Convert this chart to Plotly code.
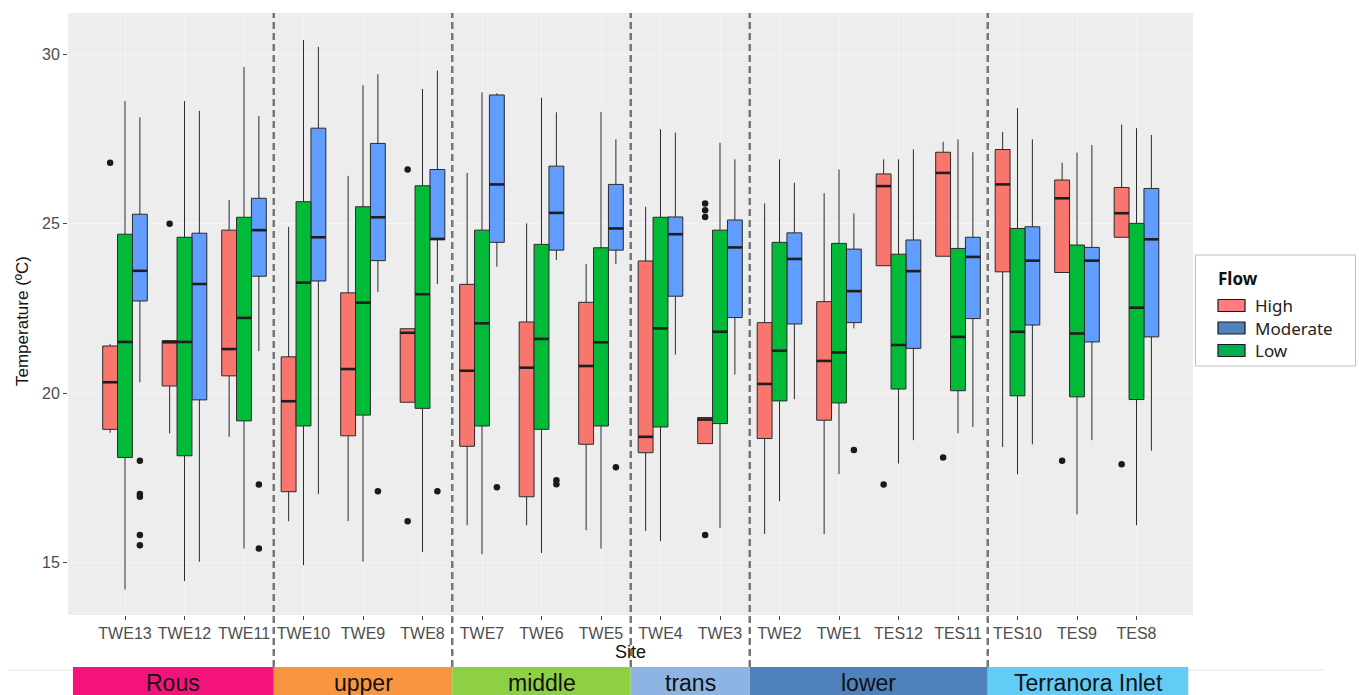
import plotly.graph_objects as go

sites = ["TWE13", "TWE12", "TWE11", "TWE10", "TWE9", "TWE8", "TWE7", "TWE6", "TWE5",
         "TWE4", "TWE3", "TWE2", "TWE1", "TES12", "TES11", "TES10", "TES9", "TES8"]

# High flow
high_low = [18.83, 18.81, 18.71, 16.22, 16.22, 19.73, 16.1, 16.1, 15.95, 15.93, 18.51, 15.84, 15.84, 23.76, 24.04, 18.41, 23.56, 24.6]
high_q1 = [18.93, 20.21, 20.51, 17.09, 18.74, 19.73, 18.43, 16.94, 18.49, 18.24, 18.51, 18.66, 19.2, 23.76, 24.04, 23.58, 23.56, 24.6]
high_med = [20.32, 21.5, 21.3, 19.76, 20.71, 21.78, 20.66, 20.75, 20.8, 18.71, 19.22, 20.27, 20.95, 26.11, 26.5, 26.16, 25.75, 25.31]
high_q3 = [21.39, 21.55, 24.81, 21.07, 22.96, 21.9, 23.21, 22.1, 22.68, 23.9, 19.28, 22.08, 22.7, 26.47, 27.11, 27.19, 26.29, 26.07]
high_up = [21.45, 21.55, 25.7, 24.91, 26.41, 21.9, 26.5, 25.01, 23.81, 25.5, 19.28, 25.6, 25.9, 26.9, 27.42, 27.71, 26.8, 27.93]

# Low flow
low_low = [14.2, 14.45, 15.41, 14.92, 15.02, 15.31, 15.24, 15.28, 15.41, 15.63, 16.02, 16.81, 17.61, 17.92, 18.81, 17.6, 16.42, 16.1]
low_q1 = [18.1, 18.15, 19.18, 19.03, 19.35, 19.55, 19.03, 18.93, 19.03, 19.0, 19.1, 19.77, 19.71, 20.12, 20.07, 19.92, 19.89, 19.81]
low_med = [21.51, 21.51, 22.22, 23.26, 22.67, 22.92, 22.06, 21.6, 21.5, 21.91, 21.81, 21.25, 21.2, 21.42, 21.66, 21.81, 21.76, 22.52]
low_q3 = [24.69, 24.6, 25.19, 25.65, 25.5, 26.12, 24.81, 24.39, 24.29, 25.19, 24.81, 24.45, 24.42, 24.1, 24.27, 24.86, 24.37, 25.01]
low_up = [28.62, 28.62, 29.63, 30.42, 29.09, 28.98, 28.88, 28.72, 28.3, 27.79, 27.39, 26.9, 26.6, 26.9, 27.49, 28.41, 27.1, 27.82]

# Moderate flow
mod_low = [20.32, 15.02, 21.24, 17.02, 22.99, 23.22, 23.73, 23.93, 23.81, 21.14, 20.55, 19.82, 21.91, 18.61, 19.0, 18.49, 18.61, 18.3]
mod_q1 = [22.72, 19.8, 23.45, 23.31, 23.91, 24.53, 24.45, 24.22, 24.22, 22.86, 22.23, 22.04, 22.08, 21.32, 22.2, 22.01, 21.51, 21.66]
mod_med = [23.61, 23.22, 24.81, 24.6, 25.19, 24.55, 26.16, 25.32, 24.86, 24.69, 24.3, 23.96, 23.01, 23.6, 24.02, 23.91, 23.91, 24.54]
mod_q3 = [25.28, 24.72, 25.75, 27.82, 27.37, 26.6, 28.8, 26.7, 26.16, 25.2, 25.11, 24.73, 24.25, 24.52, 24.6, 24.91, 24.3, 26.04]
mod_up = [28.14, 28.33, 28.18, 30.22, 29.41, 29.52, 28.85, 28.29, 27.49, 27.69, 26.9, 26.21, 25.3, 27.19, 27.11, 27.49, 27.32, 27.62]

# Outliers
out_high_site = ["TWE13", "TWE12", "TWE8", "TWE8", "TWE3", "TWE3", "TWE3", "TWE3", "TES12", "TES11", "TES9", "TES8"]
out_high_val = [26.8, 25.0, 26.6, 16.22, 25.6, 25.4, 25.2, 15.81, 17.3, 18.1, 18.0, 17.9]
out_mod_site = ["TWE13", "TWE13", "TWE13", "TWE13", "TWE13", "TWE11", "TWE11", "TWE9", "TWE8", "TWE7", "TWE6", "TWE6", "TWE5", "TWE1"]
out_mod_val = [18.0, 17.02, 16.94, 15.81, 15.51, 17.3, 15.41, 17.1, 17.1, 17.22, 17.43, 17.31, 17.81, 18.32]

# Regions
regions = ["Rous", "upper", "middle", "trans", "lower", "Terranora Inlet"]
region_first = ["TWE13", "TWE10", "TWE7", "TWE4", "TWE2", "TES10"]
region_last = ["TWE11", "TWE8", "TWE5", "TWE3", "TES11", "TES8"]
region_colors = ["#F5137B", "#F7963F", "#8ED043", "#8EB4E3", "#4F81BD", "#62CCF6"]

flows = ["High", "Moderate", "Low"]
flow_colors = {"High": "#F8766D", "Moderate": "#619CFF", "Low": "#00BA38"}
legend_colors = {"High": "#FF7C80", "Moderate": "#4F81BD", "Low": "#00B050"}
offsets = {"High": -0.25, "Low": 0.0, "Moderate": 0.25}
stats = {
    "High": (high_low, high_q1, high_med, high_q3, high_up),
    "Moderate": (mod_low, mod_q1, mod_med, mod_q3, mod_up),
    "Low": (low_low, low_q1, low_med, low_q3, low_up),
}
BW = 0.25

idx = {s: i for i, s in enumerate(sites)}
fig = go.Figure()

for f in flows:
    lo, q1, md, q3, up = stats[f]
    pos = [i + offsets[f] for i in range(len(sites))]
    fig.add_trace(go.Box(
        x=pos, q1=q1, median=md, q3=q3, lowerfence=lo, upperfence=up,
        width=BW, whiskerwidth=0, boxpoints=False,
        fillcolor=flow_colors[f], line=dict(color="#2b2b2b", width=1),
        name=f, showlegend=False, hoverinfo="skip"))
    mx, my = [], []
    for p, m in zip(pos, md):
        mx += [p - BW / 2, p + BW / 2, None]
        my += [m, m, None]
    fig.add_trace(go.Scatter(x=mx, y=my, mode="lines",
                             line=dict(color="#1f1f1f", width=2.6),
                             showlegend=False, hoverinfo="skip"))

for f, ss, vv in [("High", out_high_site, out_high_val), ("Moderate", out_mod_site, out_mod_val)]:
    fig.add_trace(go.Scatter(
        x=[idx[s] + offsets[f] for s in ss], y=vv, mode="markers",
        marker=dict(color="#1a1a1a", size=6.5), showlegend=False, hoverinfo="skip"))

# Layout geometry
L, R, T, B = 68, 1193, 13, 615
W, H = 1359, 695
ph = B - T
pw = R - L


def py(y):
    return (B - y) / ph


def px(x):
    return (x - L) / pw


shapes = []
annotations = []

# faint line under the region strip
shapes.append(dict(type="line", xref="paper", yref="paper", x0=px(8), x1=px(1323),
                   y0=py(670), y1=py(670), line=dict(color="#E3E3E3", width=1), layer="below"))

# region strip
for k, r in enumerate(regions):
    x0 = idx[region_first[k]] - 0.5
    x1 = idx[region_last[k]] + 0.5
    if k == 0:
        x0 = -0.875
    if k == len(regions) - 1:
        x1 = idx[region_last[k]] + 0.87
    shapes.append(dict(type="rect", xref="x", yref="paper", x0=x0, x1=x1,
                       y0=py(700), y1=py(667), fillcolor=region_colors[k],
                       line=dict(width=0), layer="above"))
    annotations.append(dict(x=(x0 + x1) / 2, y=py(683), xref="x", yref="paper",
                            text=r, showarrow=False,
                            font=dict(family="Liberation Sans, Arial", size=23, color="#111111"),
                            xanchor="center", yanchor="middle"))

# dashed separators
for k in range(1, len(regions)):
    xb = idx[region_first[k]] - 0.5
    shapes.append(dict(type="line", xref="x", yref="paper", x0=xb, x1=xb,
                       y0=py(667), y1=1, line=dict(color="#777777", width=2.5, dash="7px,4px"),
                       layer="above"))

# manual legend
shapes.append(dict(type="rect", xref="paper", yref="paper", x0=px(1195.5), x1=px(1355.5),
                   y0=py(366), y1=py(255), fillcolor="white",
                   line=dict(color="#BDBDBD", width=1)))
annotations.append(dict(x=px(1216), y=py(278), xref="paper", yref="paper", text="<b>Flow</b>",
                        showarrow=False, xanchor="left", yanchor="middle",
                        font=dict(family="Noto Sans, Open Sans", size=17, color="#111111")))
for k, f in enumerate(flows):
    yc = 305.5 + k * 22.5
    shapes.append(dict(type="rect", xref="paper", yref="paper", x0=px(1218), x1=px(1245),
                       y0=py(yc + 6), y1=py(yc - 6), fillcolor=legend_colors[f],
                       line=dict(color="#1a1a1a", width=1.2)))
    annotations.append(dict(x=px(1253), y=py(yc), xref="paper", yref="paper", text=f,
                            showarrow=False, xanchor="left", yanchor="middle",
                            font=dict(family="Noto Sans, Open Sans", size=17, color="#222222")))

# axis titles
annotations.append(dict(x=px(22), y=py(321), xref="paper", yref="paper",
                        text="Temperature (ºC)", textangle=-90, showarrow=False,
                        xanchor="center", yanchor="middle",
                        font=dict(family="Liberation Sans, Arial", size=17, color="#111111")))
annotations.append(dict(x=px(630), y=py(652), xref="paper", yref="paper",
                        text="Site", showarrow=False, xanchor="center", yanchor="middle",
                        font=dict(family="Liberation Sans, Arial", size=18, color="#111111")))

x_lo = (L - 125) / 59.5
x_hi = (R - 125) / 59.5

fig.update_layout(
    width=W, height=H,
    margin=dict(l=L, r=W - R, t=T, b=H - B, pad=0),
    paper_bgcolor="white", plot_bgcolor="#EDEDED",
    boxmode="overlay", showlegend=False,
    shapes=shapes, annotations=annotations,
    xaxis=dict(range=[x_lo, x_hi], tickmode="array", tickvals=list(range(len(sites))),
               ticktext=sites, ticks="outside", ticklen=4, tickcolor="#444444",
               showgrid=True, gridcolor="#F4F4F4", gridwidth=1, zeroline=False, showline=False,
               tickfont=dict(family="Liberation Sans, Arial", size=16, color="#4D4D4D")),
    yaxis=dict(range=[13.45, 31.22], tickmode="array", tickvals=[15, 20, 25, 30],
               ticks="outside", ticklen=4, tickcolor="#444444",
               showgrid=True, gridcolor="#F4F4F4", gridwidth=1, zeroline=False, showline=False,
               tickfont=dict(family="Liberation Sans, Arial", size=16, color="#4D4D4D")),
)

fig.write_html("out.html", config={"displayModeBar": False},
               post_script="document.body.style.margin='0';")
